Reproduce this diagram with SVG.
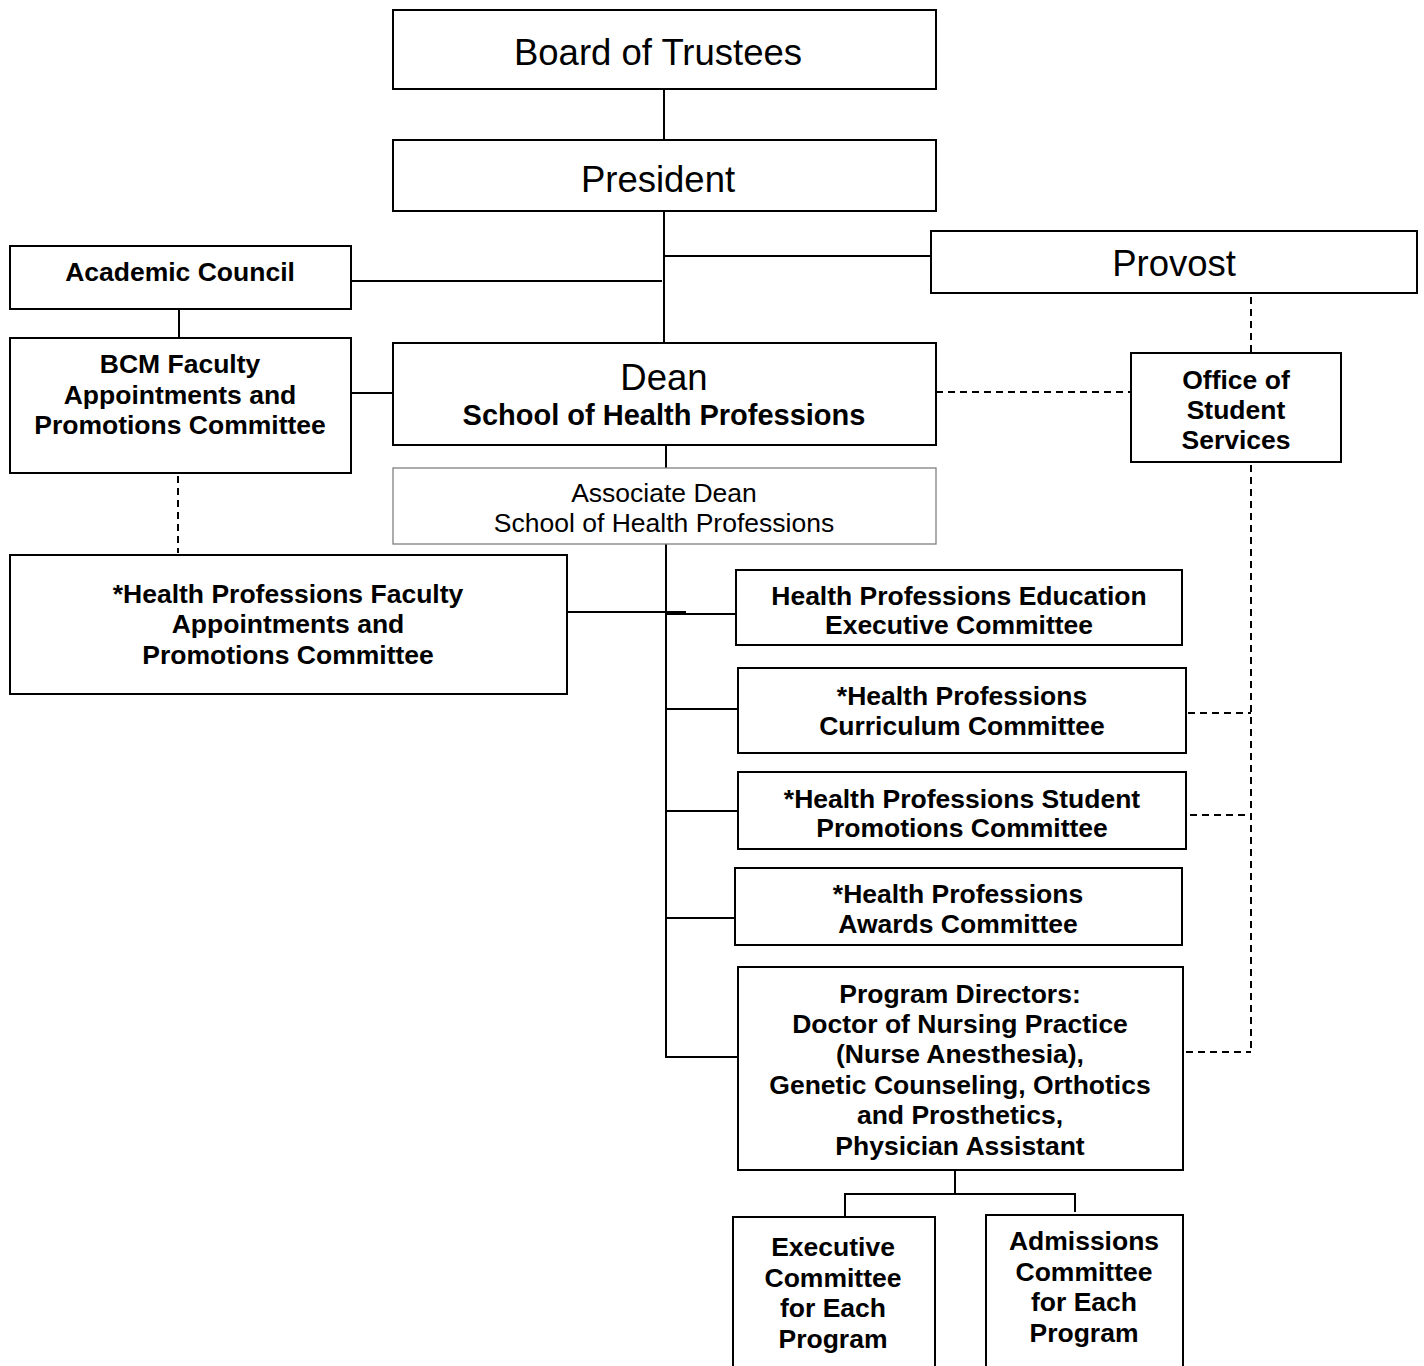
<svg xmlns="http://www.w3.org/2000/svg" width="1424" height="1366" viewBox="0 0 1424 1366">
<style>
  .box { fill: #fff; stroke: #000; stroke-width: 2; }
  .box2 { fill: #fff; stroke: #808080; stroke-width: 1.3; }
  .t { font-family: "Liberation Sans", Arial, sans-serif; text-anchor: middle; fill: #000; }
  .big { font-size: 36.5px; }
  .b { font-size: 26.5px; font-weight: bold; }
  .r { font-size: 26.5px; }
  .sub { font-size: 29px; font-weight: bold; }
  .ln { stroke: #000; stroke-width: 2; fill: none; }
  .dash { stroke: #000; stroke-width: 2; fill: none; stroke-dasharray: 7 5; }
</style>
<rect width="1424" height="1366" fill="#fff"/>
<g id="connectors">
  <line class="ln" x1="664" y1="89" x2="664" y2="140"/>
  <line class="ln" x1="664" y1="211" x2="664" y2="343"/>
  <line class="ln" x1="664" y1="256" x2="931" y2="256"/>
  <line class="ln" x1="351" y1="281" x2="662" y2="281"/>
  <line class="ln" x1="179" y1="309" x2="179" y2="338"/>
  <line class="ln" x1="351" y1="393" x2="393" y2="393"/>
  <line class="ln" x1="666" y1="445" x2="666" y2="468"/>
  <line class="ln" x1="666" y1="544" x2="666" y2="1057"/>
  <line class="ln" x1="567" y1="612" x2="686" y2="612"/>
  <line class="ln" x1="666" y1="614" x2="736" y2="614"/>
  <line class="ln" x1="666" y1="709" x2="738" y2="709"/>
  <line class="ln" x1="666" y1="811" x2="738" y2="811"/>
  <line class="ln" x1="666" y1="918" x2="735" y2="918"/>
  <line class="ln" x1="665" y1="1057" x2="738" y2="1057"/>
  <polyline class="ln" points="955,1170 955,1194"/>
  <polyline class="ln" points="845,1216 845,1194 1075,1194 1075,1212"/>
  <line class="dash" x1="936" y1="392" x2="1131" y2="392"/>
  <line class="dash" x1="1251" y1="297" x2="1251" y2="353"/>
  <line class="dash" x1="1251" y1="465" x2="1251" y2="1052"/>
  <line class="dash" x1="178" y1="476" x2="178" y2="553"/>
  <line class="dash" x1="1188" y1="713" x2="1251" y2="713"/>
  <line class="dash" x1="1190" y1="815" x2="1251" y2="815"/>
  <line class="dash" x1="1186" y1="1052" x2="1251" y2="1052"/>
</g>
<g id="board">
  <rect class="box" x="393" y="10" width="543" height="79"/>
  <text class="t big" x="658" y="65">Board of Trustees</text>
</g>
<g id="president">
  <rect class="box" x="393" y="140" width="543" height="71"/>
  <text class="t big" x="658" y="192">President</text>
</g>
<g id="academic-council">
  <rect class="box" x="10" y="246" width="341" height="63"/>
  <text class="t b" x="180" y="281">Academic Council</text>
</g>
<g id="provost">
  <rect class="box" x="931" y="231" width="486" height="62"/>
  <text class="t big" x="1174" y="276">Provost</text>
</g>
<g id="bcm-faculty">
  <rect class="box" x="10" y="338" width="341" height="135"/>
  <text class="t b" x="180" y="373">BCM Faculty</text>
  <text class="t b" x="180" y="404">Appointments and</text>
  <text class="t b" x="180" y="434">Promotions Committee</text>
</g>
<g id="dean">
  <rect class="box" x="393" y="343" width="543" height="102"/>
  <text class="t big" x="664" y="390">Dean</text>
  <text class="t sub" x="664" y="425">School of Health Professions</text>
</g>
<g id="student-services">
  <rect class="box" x="1131" y="353" width="210" height="109"/>
  <text class="t b" x="1236" y="389">Office of</text>
  <text class="t b" x="1236" y="419">Student</text>
  <text class="t b" x="1236" y="449">Services</text>
</g>
<g id="associate-dean">
  <rect class="box2" x="393" y="468" width="543" height="76"/>
  <text class="t r" x="664" y="502">Associate Dean</text>
  <text class="t r" x="664" y="532">School of Health Professions</text>
</g>
<g id="hp-faculty">
  <rect class="box" x="10" y="555" width="557" height="139"/>
  <text class="t b" x="288" y="603">*Health Professions Faculty</text>
  <text class="t b" x="288" y="633">Appointments and</text>
  <text class="t b" x="288" y="664">Promotions Committee</text>
</g>
<g id="education-exec">
  <rect class="box" x="736" y="570" width="446" height="75"/>
  <text class="t b" x="959" y="605">Health Professions Education</text>
  <text class="t b" x="959" y="634">Executive Committee</text>
</g>
<g id="curriculum">
  <rect class="box" x="738" y="668" width="448" height="85"/>
  <text class="t b" x="962" y="705">*Health Professions</text>
  <text class="t b" x="962" y="735">Curriculum Committee</text>
</g>
<g id="student-promotions">
  <rect class="box" x="738" y="772" width="448" height="77"/>
  <text class="t b" x="962" y="808">*Health Professions Student</text>
  <text class="t b" x="962" y="837">Promotions Committee</text>
</g>
<g id="awards">
  <rect class="box" x="735" y="868" width="447" height="77"/>
  <text class="t b" x="958" y="903">*Health Professions</text>
  <text class="t b" x="958" y="933">Awards Committee</text>
</g>
<g id="program-directors">
  <rect class="box" x="738" y="967" width="445" height="203"/>
  <text class="t b" x="960" y="1003">Program Directors:</text>
  <text class="t b" x="960" y="1033">Doctor of Nursing Practice</text>
  <text class="t b" x="960" y="1063">(Nurse Anesthesia),</text>
  <text class="t b" x="960" y="1094">Genetic Counseling, Orthotics</text>
  <text class="t b" x="960" y="1124">and Prosthetics,</text>
  <text class="t b" x="960" y="1155">Physician Assistant</text>
</g>
<g id="executive-committee">
  <rect class="box" x="733" y="1217" width="202" height="160"/>
  <text class="t b" x="833" y="1256">Executive</text>
  <text class="t b" x="833" y="1287">Committee</text>
  <text class="t b" x="833" y="1317">for Each</text>
  <text class="t b" x="833" y="1348">Program</text>
</g>
<g id="admissions-committee">
  <rect class="box" x="986" y="1215" width="197" height="162"/>
  <text class="t b" x="1084" y="1250">Admissions</text>
  <text class="t b" x="1084" y="1281">Committee</text>
  <text class="t b" x="1084" y="1311">for Each</text>
  <text class="t b" x="1084" y="1342">Program</text>
</g>
</svg>
